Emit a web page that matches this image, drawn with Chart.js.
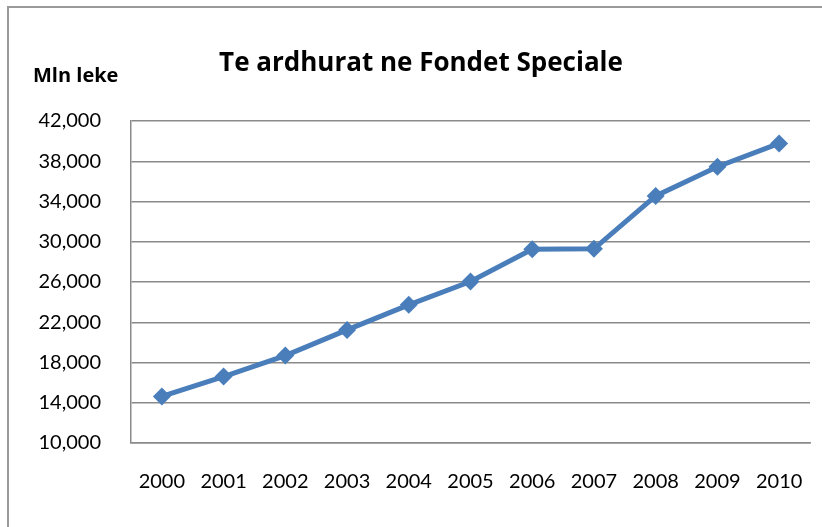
<!DOCTYPE html>
<html>
<head>
<meta charset="utf-8">
<script src="https://cdn.jsdelivr.net/npm/chart.js@4"></script>
<style>
  html, body { margin: 0; padding: 0; background: #fff; }
  #wrap { width: 822px; height: 527px; position: relative; }
</style>
</head>
<body>
<div id="wrap"><canvas id="c" width="822" height="527"></canvas></div>
<script>
const years = ['2000','2001','2002','2003','2004','2005','2006','2007','2008','2009','2010'];
const revenues = [14630, 16600, 18690, 21240, 23730, 26050, 29250, 29300, 34550, 37450, 39770];
const chartTitle = 'Te ardhurat ne Fondet Speciale';
const unitLabel = 'Mln leke';
const yMin = 10000, yMax = 42000, yStep = 4000;

const FONT = 'Lato, "Open Sans", sans-serif';
const HEAD_FONT = '"Open Sans", Lato, sans-serif';

const decor = {
  id: 'decor',
  beforeDraw(chart) {
    const ctx = chart.ctx;
    ctx.save();
    ctx.fillStyle = '#fff';
    ctx.fillRect(0, 0, chart.width, chart.height);
    ctx.strokeStyle = '#9a9a9a';
    ctx.lineWidth = 2;
    ctx.beginPath();
    ctx.moveTo(8, chart.height + 5);
    ctx.lineTo(8, 7);
    ctx.lineTo(chart.width + 5, 7);
    ctx.stroke();
    ctx.restore();
  },
  afterDraw(chart) {
    const ctx = chart.ctx;
    ctx.save();
    ctx.fillStyle = '#000';
    ctx.textBaseline = 'alphabetic';
    ctx.font = 'bold 26px ' + HEAD_FONT;
    ctx.textAlign = 'center';
    ctx.fillText(chartTitle, 421, 71);
    ctx.font = 'bold 20px ' + HEAD_FONT;
    ctx.textAlign = 'left';
    ctx.fillText(unitLabel, 33, 82);
    ctx.restore();
  }
};

new Chart(document.getElementById('c'), {
  type: 'line',
  data: {
    labels: years,
    datasets: [{
      data: revenues,
      borderColor: '#4a7ebb',
      backgroundColor: '#4a7ebb',
      borderWidth: 5,
      pointStyle: 'rectRot',
      pointRadius: 9,
      pointHoverRadius: 9,
      pointBorderWidth: 0,
      tension: 0,
      fill: false
    }]
  },
  options: {
    responsive: false,
    animation: false,
    devicePixelRatio: 1,
    layout: { padding: { top: 121, right: 12, left: 0, bottom: 0 } },
    plugins: {
      legend: { display: false },
      title: { display: false },
      tooltip: { enabled: false }
    },
    scales: {
      x: {
        offset: true,
        grid: { display: false, drawTicks: false },
        border: { display: true, color: '#8a8a8a', width: 1.5 },
        ticks: { color: '#000', font: { family: FONT, size: 20 }, padding: 27, maxRotation: 0 },
        afterFit(scale) { scale.height = 84; scale.paddingLeft = 0; scale.paddingRight = 0; }
      },
      y: {
        min: yMin,
        max: yMax,
        grid: { color: '#8a8a8a', lineWidth: 1.5, drawTicks: false },
        border: { display: true, color: '#8a8a8a', width: 1.5 },
        ticks: {
          stepSize: yStep,
          color: '#000',
          font: { family: FONT, size: 20 },
          padding: 30,
          callback: v => v.toLocaleString('en-US')
        },
        afterFit(scale) { scale.width = 131; scale.paddingTop = 0; scale.paddingBottom = 0; }
      }
    }
  },
  plugins: [decor]
});
</script>
</body>
</html>
